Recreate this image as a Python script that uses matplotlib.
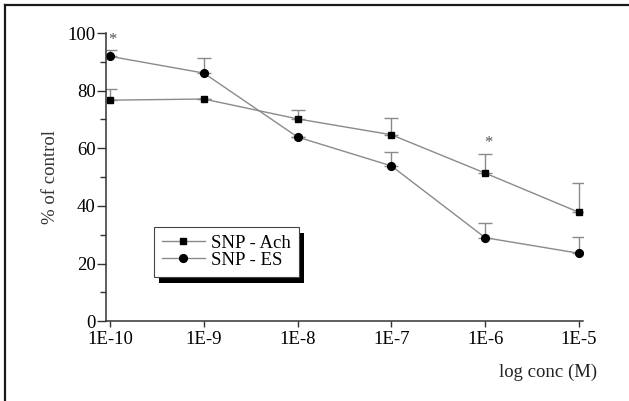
import numpy as np
import matplotlib.pyplot as plt
from matplotlib.lines import Line2D
from matplotlib import patheffects
from matplotlib.ticker import FixedLocator, NullLocator

plt.rcParams['font.family'] = ['Liberation Serif', 'DejaVu Serif']

# concentrations (M)
conc = [1e-10, 1e-9, 1e-8, 1e-7, 1e-6, 1e-5]
conc_labels = ['1E-10', '1E-9', '1E-8', '1E-7', '1E-6', '1E-5']

# SNP - Ach (squares)
ach_mean = [76.7, 77.1, 70.2, 64.7, 51.4, 37.8]
ach_err = [3.8, 0.0, 3.2, 5.9, 6.8, 10.0]

# SNP - ES (circles)
es_mean = [91.9, 86.1, 63.9, 53.9, 29.0, 23.6]
es_err = [2.1, 5.1, 0.0, 4.9, 5.2, 5.6]

# significance marks
star_x = [1e-10, 1e-6]
star_y = [97.5, 62.0]

fig = plt.figure(figsize=(6.29, 4.01), dpi=100)
W, H = 629, 401
ax = fig.add_axes([106 / W, 1 - 321.3 / H, (582.7 - 106) / W, (321.3 - 33) / H])

line_c = '#8a8a8a'
ax.errorbar(conc, ach_mean, yerr=[np.zeros(len(ach_err)), ach_err],
            fmt='none', ecolor=line_c, elinewidth=1, capsize=5, capthick=1)
ax.errorbar(conc, es_mean, yerr=[np.zeros(len(es_err)), es_err],
            fmt='none', ecolor=line_c, elinewidth=1, capsize=5, capthick=1)
ax.plot(conc, ach_mean, '-', color=line_c, lw=1, marker='s', ms=4.8,
        mfc='black', mec='black', label='SNP - Ach')
ax.plot(conc, es_mean, '-', color=line_c, lw=1, marker='o', ms=5.6,
        mfc='black', mec='black', label='SNP - ES')

for sx, sy in zip(star_x, star_y):
    ax.text(sx * 1.07, sy, '*', ha='center', va='center', fontsize=12,
            color='#555555')

ax.set_xscale('log')
ax.set_xlim(10 ** -10.043, 10 ** -4.96)
ax.set_ylim(0, 100)
ax.xaxis.set_major_locator(FixedLocator(conc))
ax.xaxis.set_minor_locator(NullLocator())
ax.set_xticklabels(conc_labels)
ax.set_yticks([0, 20, 40, 60, 80, 100])
ax.set_yticks([10, 30, 50, 70, 90], minor=True)

for s in ['top', 'right']:
    ax.spines[s].set_visible(False)
for s in ['left', 'bottom']:
    ax.spines[s].set_linewidth(1.1)
    ax.spines[s].set_color('#333333')

ax.tick_params(axis='both', which='major', labelsize=13.5, color='#333333',
               width=1, direction='out')
ax.tick_params(axis='y', which='major', length=6.5, pad=1)
ax.tick_params(axis='y', which='minor', length=4, width=1, color='#333333')
ax.tick_params(axis='x', which='major', length=4, pad=3)

ax.set_ylabel('% of control', fontsize=13.5, color='#333333', labelpad=6)
fig.text(597 / W, 1 - 372 / H, 'log conc (M)', ha='right', va='center',
         fontsize=13.5, color='#222222')

leg = ax.legend(loc='lower left', bbox_to_anchor=(0.1, 0.154),
                borderaxespad=0, fontsize=13.5, frameon=True, fancybox=False,
                handlelength=2.3, handletextpad=0.35, labelspacing=0.0,
                borderpad=0.42)
frame = leg.get_frame()
frame.set_edgecolor('#444444')
frame.set_linewidth(0.8)
frame.set_alpha(1)
frame.set_path_effects([patheffects.SimplePatchShadow(offset=(4, -4.5),
                                                      shadow_rgbFace='black',
                                                      alpha=1),
                        patheffects.Normal()])

# outer frame (top and left edges)
fig.add_artist(Line2D([4.5 / W, 1], [1 - 5 / H, 1 - 5 / H],
                      transform=fig.transFigure, color='#1a1a1a', lw=1.6))
fig.add_artist(Line2D([5 / W, 5 / W], [0, 1 - 4.5 / H],
                      transform=fig.transFigure, color='#1a1a1a', lw=1.6))

fig.savefig('out.png', dpi=100)
